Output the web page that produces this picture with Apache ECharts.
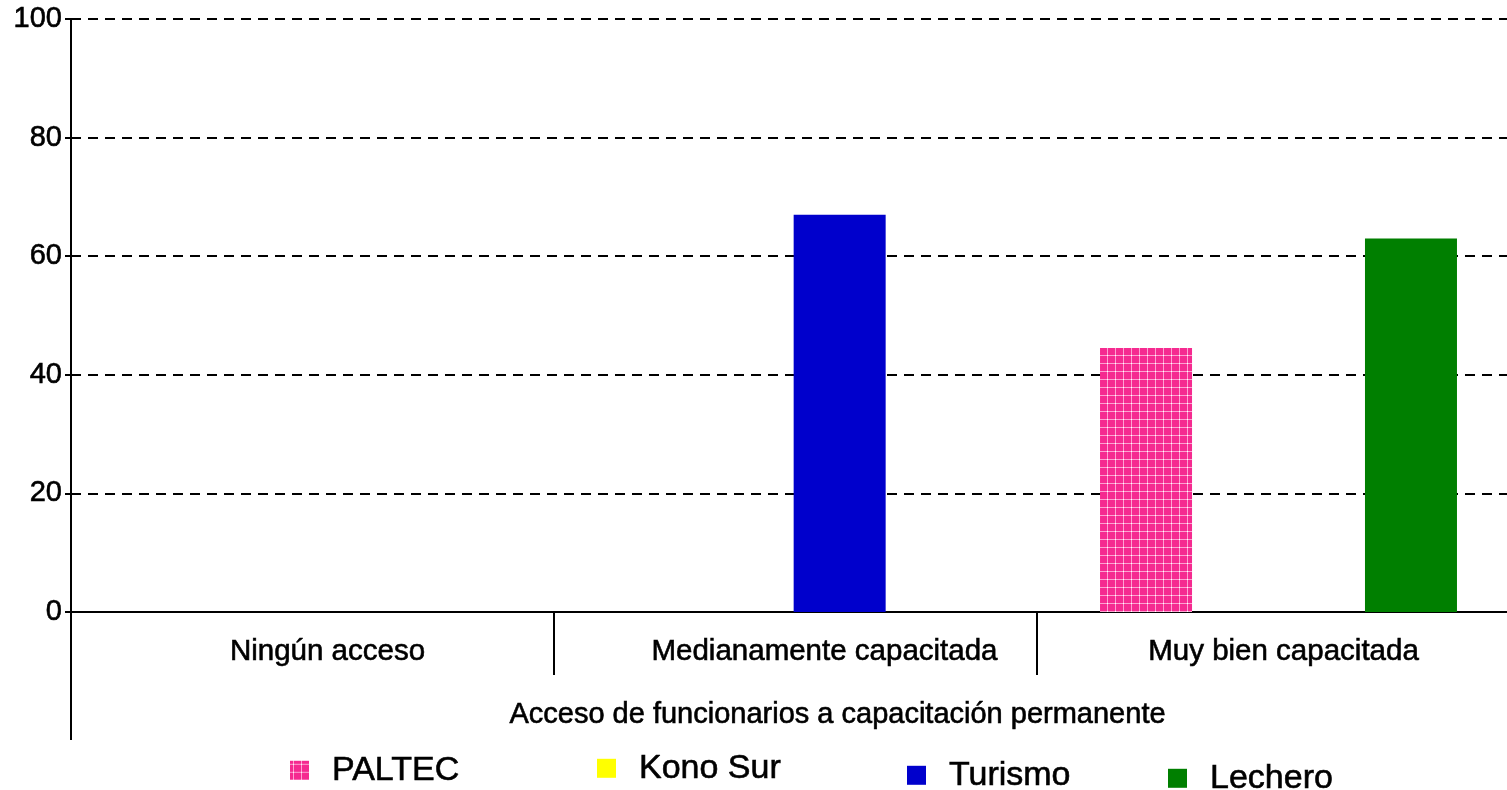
<!DOCTYPE html>
<html>
<head>
<meta charset="utf-8">
<script src="https://cdn.jsdelivr.net/npm/echarts@6/dist/echarts.min.js"></script>
<style>
html,body{margin:0;padding:0;background:#fff;}
#chart{width:1507px;height:790px;}
</style>
</head>
<body>
<div id="chart"></div>
<script>
var categories = ['Ningún acceso', 'Medianamente capacitada', 'Muy bien capacitada'];
var seriesNames = ['PALTEC', 'Kono Sur', 'Turismo', 'Lechero'];
var paltec = [0, 0, 44.5];
var konoSur = [0, 0, 0];
var turismo = [0, 67, 0];
var lechero = [0, 0, 63];
var yMin = 0, yMax = 100, yStep = 20;
var axisTitle = 'Acceso de funcionarios a capacitación permanente';

function makePattern() {
  var c = document.createElement('canvas');
  c.width = 8; c.height = 8;
  var g = c.getContext('2d');
  g.fillStyle = '#f52a90';
  g.fillRect(0, 0, 8, 8);
  g.fillStyle = 'rgba(255,190,225,0.8)';
  g.fillRect(3, 0, 1, 8);
  g.fillRect(0, 3, 8, 1);
  g.fillStyle = '#ffffff';
  g.fillRect(3, 3, 1, 1);
  return c;
}
var pinkPattern = { image: makePattern(), repeat: 'repeat' };

var colors = [pinkPattern, '#ffff00', '#0000cc', '#007f00'];
var values = [paltec, konoSur, turismo, lechero];
var FONT = 'Liberation Sans, Arial, sans-serif';
var thick = { textBorderColor: '#000', textBorderWidth: 0.6 };
var labelShift = [30, 58, 10];

var rich = {};
labelShift.forEach(function (s, i) {
  rich['c' + i] = Object.assign({ fontFamily: FONT, fontSize: 29.5, color: '#000', padding: [0, 0, 0, s] }, thick);
});

var chart = echarts.init(document.getElementById('chart'));
var series = seriesNames.map(function (n, i) {
  return {
    name: n, type: 'bar', data: values[i],
    barWidth: 92, barGap: '-4%',
    itemStyle: { color: colors[i] },
    silent: true
  };
});
var legendLeft = [285, 592, 902, 1163];
var legendTop = [748, 746, 753, 756];
var legends = seriesNames.map(function (n, i) {
  return {
    data: [n], left: legendLeft[i], top: legendTop[i],
    itemWidth: 19, itemHeight: 19, icon: 'rect',
    selectedMode: false,
    textStyle: Object.assign({ fontFamily: FONT, fontSize: 34, color: '#000', padding: [0, 0, 0, 18] }, thick)
  };
});

chart.setOption({
  animation: false,
  backgroundColor: '#fff',
  grid: { left: 71, top: 19, bottom: 178, width: 1449, outerBoundsMode: 'none', containLabel: false },
  legend: legends,
  xAxis: {
    type: 'category', data: categories,
    axisLine: { lineStyle: { color: '#000', width: 2 } },
    axisTick: { show: true, interval: 0, length: 63, lineStyle: { color: '#000', width: 2 } },
    axisLabel: {
      interval: 0, margin: 25, rich: rich,
      formatter: function (v, idx) { return '{c' + idx + '|' + v + '}'; }
    },
    name: axisTitle, nameLocation: 'middle', nameGap: 88,
    nameTextStyle: Object.assign({ fontFamily: FONT, fontSize: 29, color: '#000', padding: [0, 0, 0, 84] }, thick)
  },
  yAxis: {
    type: 'value', min: yMin, max: yMax, interval: yStep,
    axisLine: { show: true, lineStyle: { color: '#000', width: 2 } },
    axisTick: { show: true, length: 6, lineStyle: { color: '#000', width: 2 } },
    axisLabel: Object.assign({ fontFamily: FONT, fontSize: 29, color: '#000', margin: 9 }, thick),
    splitLine: { show: true, lineStyle: { color: '#000', width: 2, type: [10, 7] } }
  },
  series: series
});

var p0 = chart.convertToPixel({ xAxisIndex: 0, yAxisIndex: 0 }, [0, 0]);
var x0 = chart.getModel().getComponent('grid').coordinateSystem.getRect().x;
chart.setOption({
  graphic: [{
    type: 'line', silent: true,
    shape: { x1: x0, y1: p0[1], x2: x0, y2: p0[1] + 128 },
    style: { stroke: '#000', lineWidth: 2 }
  }]
});
</script>
</body>
</html>
